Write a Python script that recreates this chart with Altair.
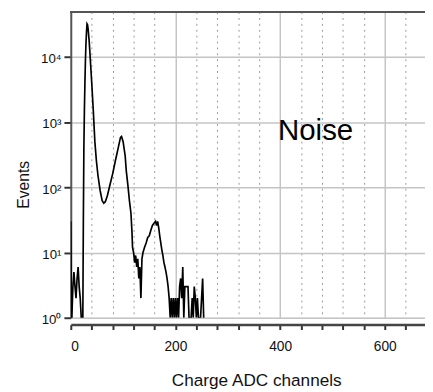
import altair as alt
import pandas as pd

# Histogram (channel, events); bottom values plotted at 1
channels = [0, 1, 2, 4, 6, 8, 10, 12, 14, 16, 18, 20, 21, 22, 23, 24, 25, 26, 27, 28, 29, 30, 31, 32,
            33, 35, 37, 40, 43, 46, 49, 52, 56, 60, 63, 66, 70, 75, 80, 85, 90, 95, 97, 100, 104,
            106, 109, 112, 115, 117, 118, 120, 122, 124, 126, 128, 130, 132, 134, 136, 138, 141,
            144, 147, 150, 153, 156, 159, 162, 164, 166, 168, 170, 172, 174, 176, 178, 180, 182,
            184, 186, 188, 190, 192, 194, 196, 198, 200, 202, 204, 206, 208, 210, 212, 214, 216,
            218, 220, 222, 224, 226, 228, 230, 232, 234, 236, 238, 240, 242, 244, 246, 248, 250,
            252, 254, 255]
events = [30, 1, 1, 3, 5, 3, 2, 4, 6, 3, 2, 1, 1, 1, 1, 30, 400, 1500, 4000, 9000, 16000, 24000, 32000, 31000,
          27000, 18000, 10000, 4000, 1500, 500, 250, 150, 90, 62, 57, 60, 75, 110, 160, 250, 380, 580, 600, 500, 300,
          180, 110, 63, 40, 20, 12, 10, 7, 9, 6, 8, 4, 6, 2, 8, 10, 12,
          14, 17, 18, 22, 26, 28, 30, 26, 30, 24, 18, 14, 11, 9, 7, 6, 5,
          4, 3, 2, 1, 2, 1, 2, 1, 2, 1, 2, 1, 3, 4, 2, 6, 1,
          3, 3, 3, 3, 1, 1, 1, 2, 1, 3, 2, 1, 2, 1, 1, 1, 2,
          4, 1, 1]

x_ticks = [0, 40, 80, 120, 160, 200, 240, 280, 320, 360, 400, 440, 480, 520, 560, 600, 640]
y_ticks = [1, 10, 100, 1000, 10000]
annotation = ["Noise"]

df = pd.DataFrame({"ch": channels, "n": events})
ann = pd.DataFrame({"label": annotation, "ch": [396], "n": [527]})

FONT = "Liberation Sans"
W, H = 361, 312

xscale = alt.Scale(domain=[0, 677], nice=False, zero=False)
yscale = alt.Scale(type="log", domain=[1, 49200], nice=False)

major = "datum.value % 200 === 0"

xaxis = alt.Axis(
    values=x_ticks,
    labelExpr="datum.value % 200 === 0 ? datum.label : ''",
    labelOverlap=False,
    title="Charge ADC channels",
    titleFont=FONT, titleFontSize=17.5, titleFontWeight="normal", titleColor="#111",
    titleX=189, titleY=62, titleBaseline="alphabetic", titleAlign="center",
    labelFont=FONT, labelFontSize=14, labelColor="#111", labelPadding=10,
    offset=7,
    domainColor="#444", domainWidth=2.5,
    tickColor="#333", tickWidth=2, tickSize=5,
    grid=True,
    gridColor={"condition": {"test": major, "value": "#c4c4c4"}, "value": "#9a9a9a"},
    gridDash={"condition": {"test": major, "value": []}, "value": [2, 4]},
    gridWidth={"condition": {"test": major, "value": 1.5}, "value": 1},
)

yaxis = alt.Axis(
    values=y_ticks,
    labelExpr="'10' + ['⁰','¹','²','³','⁴'][round(log(datum.value)/LN10)]",
    title="Events",
    titleFont=FONT, titleFontSize=16, titleFontWeight="normal", titleColor="#111",
    titleAngle=270, titleX=-48, titleY=176, titleAlign="center", titleBaseline="middle",
    labelFont=FONT, labelFontSize=13.5, labelColor="#111", labelPadding=3, labelOffset=2,
    domainColor="#555", domainWidth=2,
    tickColor="#333", tickWidth=2, tickSize=7,
    grid=True, gridColor="#c4c4c4", gridWidth=1.5,
)

line = alt.Chart(df).mark_line(color="black", strokeWidth=1.7, clip=True).encode(
    x=alt.X("ch:Q", scale=xscale, axis=xaxis),
    y=alt.Y("n:Q", scale=yscale, axis=yaxis),
)

frame_top = alt.Chart(df).mark_rule(color="#555", strokeWidth=2).encode(
    x=alt.value(0), x2=alt.value(W), y=alt.value(0.5)
)

noise = alt.Chart(ann).mark_text(
    font=FONT, fontSize=30, align="left", baseline="alphabetic", color="black"
).encode(
    x=alt.X("ch:Q", scale=xscale, axis=xaxis),
    y=alt.Y("n:Q", scale=yscale, axis=yaxis),
    text="label:N",
)

chart = alt.layer(line, frame_top, noise).properties(
    width=W, height=H,
    autosize=alt.AutoSizeParams(type="none"),
    padding={"left": 64, "top": 0, "right": 0, "bottom": 72},
).configure_view(stroke=None).configure(background="white")

chart.save("out.html", embed_options={"renderer": "svg", "actions": False})
